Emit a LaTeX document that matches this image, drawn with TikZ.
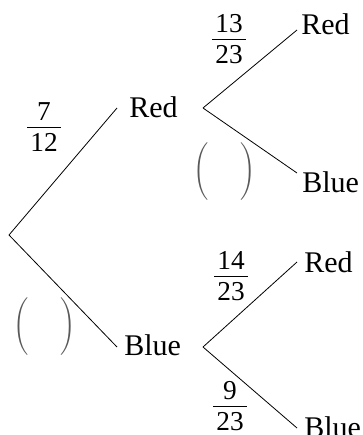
\documentclass[tikz,border=0pt]{standalone}
\usepackage{amsmath}
\usepackage{fontspec}
\setmainfont{Liberation Serif}
\usetikzlibrary{calc}
\definecolor{blank}{gray}{0.35}
\newcommand{\prob}[2]{$\genfrac{}{}{0.6pt}{0}{\text{\raisebox{-3.3pt}{\kern2.4pt#1\kern2.4pt}}}{\text{\raisebox{1.6pt}{\kern2.4pt#2\kern2.4pt}}}$}
\newcommand{\gap}{$\Bigg(\hspace{24pt}\Bigg)$}

\tikzset{
    lbl/.style={inner sep=0pt, anchor=west, font=\fontsize{22.5}{26}\selectfont},
    pfrac/.style={inner sep=0pt, anchor=base, font=\fontsize{20.5}{24}\selectfont},
    pgap/.style={inner sep=0pt, text=blank, font=\fontsize{14}{17}\selectfont},
    branch/.style={line width=0.6pt}
}

\begin{document}
\begin{tikzpicture}[x=0.75pt, y=-0.75pt]
    \useasboundingbox (0,0) rectangle (363,435);

    % first pick
    \coordinate (o) at (9,235);
    \coordinate (a) at (117,108);
    \coordinate (b) at (117,347);
    \node[lbl] (redA) at (129,107) {Red};
    \node[lbl] (blueA) at (124,345) {Blue};
    \draw[branch] (o) -- (a);
    \draw[branch] (o) -- (b);
    \node[pfrac] (pRedA) at (44,134.8) {\prob{7}{12}};
    \node[pgap] (gBlueA) at (44.5,327) {\gap};

    % second pick after red
    \coordinate (p) at (203,108);
    \coordinate (c) at (297,30);
    \coordinate (d) at (297,173);
    \node[lbl] (redB) at (301,24) {Red};
    \node[lbl] (blueB) at (302,182) {Blue};
    \draw[branch] (p) -- (c);
    \draw[branch] (p) -- (d);
    \node[pfrac] (pRedB) at (229,46.8) {\prob{13}{23}};
    \node[pgap] (gBlueB) at (225,172) {\gap};

    % second pick after blue
    \coordinate (q) at (203,347);
    \coordinate (e) at (297,262);
    \coordinate (f) at (297,428);
    \node[lbl] (redC) at (304,262) {Red};
    \node[lbl] (blueC) at (304,427) {Blue};
    \draw[branch] (q) -- (e);
    \draw[branch] (q) -- (f);
    \node[pfrac] (pRedC) at (231,283.8) {\prob{14}{23}};
    \node[pfrac] (pBlueC) at (230,413.8) {\prob{9}{23}};
\end{tikzpicture}
\end{document}
